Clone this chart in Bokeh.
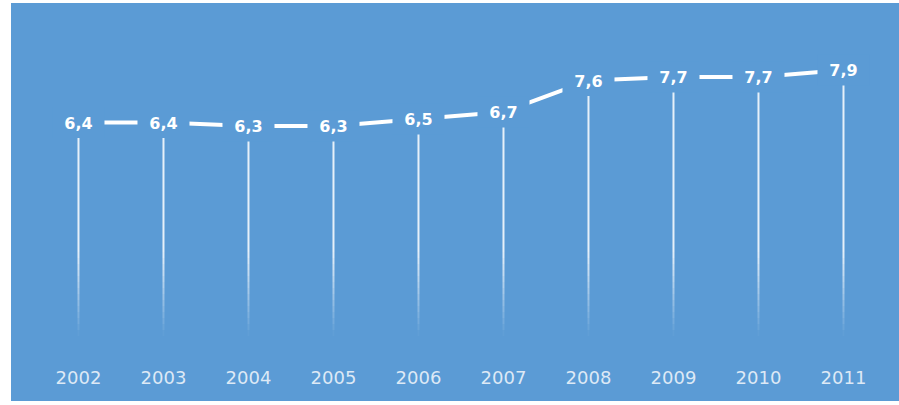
from bokeh.plotting import figure
from bokeh.models import ColumnDataSource, FixedTicker, Range1d
from bokeh.core.properties import value
from bokeh.embed import file_html
from bokeh.resources import INLINE

# ---- data ----
years = [2002, 2003, 2004, 2005, 2006, 2007, 2008, 2009, 2010, 2011]
values = [6.4, 6.4, 6.3, 6.3, 6.5, 6.7, 7.6, 7.7, 7.7, 7.9]
value_labels = [f"{v:.1f}".replace(".", ",") for v in values]

# ---- style ----
BG = "#5b9bd5"
FADE_TOP = 2.7      # data level where the drop lines start to fade
FADE_BOTTOM = 0.3   # data level where they vanish
N_FADE = 14

p = figure(width=888, height=398, margin=(3, 0, 4, 11),
           output_backend="svg", toolbar_location=None,
           x_range=Range1d(2001.212, 2011.659), y_range=Range1d(-0.457, 9.8),
           min_border_left=0, min_border_right=0, min_border_top=0, min_border_bottom=39)
p.styles = {"background-color": BG}
p.background_fill_alpha = 0
p.border_fill_alpha = 0
p.outline_line_color = None
p.xgrid.visible = False
p.ygrid.visible = False
p.yaxis.visible = False

ax = p.xaxis[0]
ax.ticker = FixedTicker(ticks=years)
ax.axis_line_color = None
ax.major_tick_line_color = None
ax.minor_tick_line_color = None
ax.major_label_standoff = 2
ax.major_label_text_font = "DejaVu Sans"
ax.major_label_text_font_size = "18px"
ax.major_label_text_color = "#dde9f6"

# ---- fading drop lines ----
sx, sy0, sy1, sa = [], [], [], []
for yr, v in zip(years, values):
    sx.append(yr); sy0.append(v); sy1.append(FADE_TOP); sa.append(0.85)
    step = (FADE_TOP - FADE_BOTTOM) / N_FADE
    for i in range(N_FADE):
        top = FADE_TOP - i * step
        sx.append(yr); sy0.append(top); sy1.append(top - step)
        sa.append(0.85 * (1 - (i + 0.5) / N_FADE))
seg = ColumnDataSource(dict(x=sx, y0=sy0, y1=sy1, a=sa))
p.segment(x0="x", y0="y0", x1="x", y1="y1", source=seg,
          line_color="white", line_alpha="a", line_width=2)

# ---- main line ----
src = ColumnDataSource(dict(x=years, y=values, t=value_labels))
p.line("x", "y", source=src, line_color="white", line_width=4)

# label backgrounds (gaps in the line)
p.rect("x", "y", source=src, width=52, height=31,
       width_units="screen", height_units="screen",
       fill_color=BG, line_color=None)

p.text("x", "y", text="t", source=src, text_align="center", text_baseline="middle",
       text_font=value("DejaVu Sans"), text_font_style="bold",
       text_font_size="16px", text_color="white")

open("out.html", "w").write(file_html(p, INLINE))
